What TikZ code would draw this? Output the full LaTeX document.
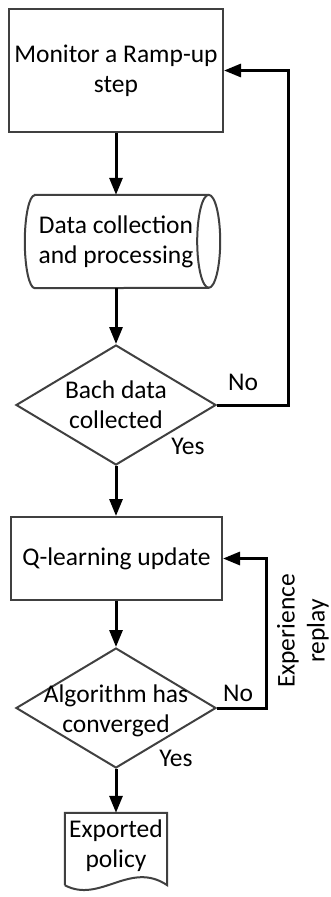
\documentclass[tikz,border=0pt]{standalone}
\usepackage{fontspec}
\setmainfont{Carlito}
\usetikzlibrary{arrows.meta,shapes.geometric}
\definecolor{edgegrey}{HTML}{404040}
\begin{document}
\begin{tikzpicture}[x=1pt,y=-1pt,
  every node/.style={font=\fontsize{25.5}{30}\selectfont, inner sep=0pt},
  outline/.style={draw=edgegrey, line width=2pt},
  procbox/.style={outline, rectangle},
  decision/.style={outline, diamond},
  conn/.style={draw=black, line width=3pt, -{Triangle[length=17pt,width=13pt]}},
  lbl/.style={align=center}]
\useasboundingbox (0,0) rectangle (330,897);

% process boxes
\node[procbox, minimum width=214pt, minimum height=123pt, align=center] (box1) at (116,70.5) {Monitor a Ramp-up\\step};
\node[procbox, minimum width=211pt, minimum height=83pt] (qbox) at (116.5,558.5) {Q-learning update};

% data cylinder
\node[minimum width=195pt, minimum height=93pt] (cyl) at (122.5,241.5) {};
\draw[outline] ([xshift=10pt]cyl.north west) -- ([xshift=-11.5pt]cyl.north east)
  arc[start angle=90, end angle=-90, x radius=11.5pt, y radius=46.5pt]
  -- ([xshift=10pt]cyl.south west)
  arc[start angle=270, end angle=90, x radius=10pt, y radius=46.5pt] -- cycle;
\draw[outline] ([xshift=-11.5pt]cyl.north east)
  arc[start angle=90, end angle=270, x radius=11.5pt, y radius=46.5pt];
\node[lbl] (cyltext) at (116,242) {Data collection\\and processing};

% decisions
\node[decision, minimum width=200pt, minimum height=120pt] (d1) at (116,405) {};
\node[lbl] (d1text) at (116,405) {Bach data\\collected};
\node[decision, minimum width=200pt, minimum height=120pt] (d2) at (116,708) {};
\node[lbl] (d2text) at (116,711) {Algorithm has\\converged};

% exported document
\node[minimum width=102pt, minimum height=72pt] (doc) at (116,849) {};
\draw[outline] (doc.south west) -- (doc.north west) -- (doc.north east) -- (doc.south east)
  .. controls (130,860) and (100,904) .. (doc.south west);
\node[lbl] (doctext) at (116,846) {Exported\\policy};

% loop-back columns
\coordinate (loopa) at (288,0);
\coordinate (loopb) at (266,0);

% connectors
\draw[conn] (box1.south) -- (box1.south |- cyl.north);
\draw[conn] (box1.south |- cyl.south) -- (d1.north);
\draw[conn] (d1.south) -- (d1.south |- qbox.north);
\draw[conn] (d1.south |- qbox.south) -- (d2.north);
\draw[conn] (d2.south) -- (d2.south |- doc.north);
\draw[conn] (d1.east) -- (d1.east -| loopa) |- (box1.east);
\draw[conn] (d2.east) -- (d2.east -| loopb) |- (qbox.east);

% branch labels
\node (no1) at (243,382) {No};
\node (yes1) at (188,446) {Yes};
\node (no2) at (238,693) {No};
\node (yes2) at (176,758) {Yes};
\node[lbl, rotate=90] (replay) at (303,631) {Experience\\replay};
\end{tikzpicture}
\end{document}
